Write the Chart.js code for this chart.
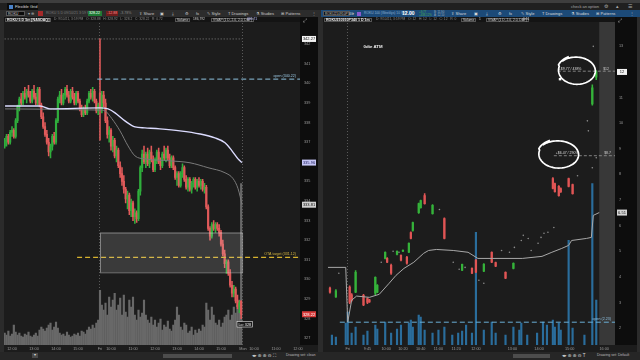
<!DOCTYPE html>
<html><head><meta charset="utf-8">
<script src="https://cdn.jsdelivr.net/npm/chart.js@4.4.0/dist/chart.umd.min.js"></script>
<style>
html,body{margin:0;padding:0;width:640px;height:360px;overflow:hidden;background:#2b2b2b;font-family:"Liberation Sans",Arial,"DejaVu Sans",sans-serif;}
.a{position:absolute;white-space:nowrap;line-height:1;}
canvas{position:absolute;}
.bx{border:0.5px solid #555;box-sizing:border-box;}
</style></head><body>
<!-- window bar -->
<div class="a" style="left:0;top:0;width:640px;height:3px;background:#3e3e3e"></div>
<div class="a" style="left:0;top:3px;width:640px;height:7px;background:#202020"></div>
<div class="a" style="left:7px;top:3px;width:31px;height:7px;background:#0c0c0c"></div>
<div class="a" style="left:9px;top:4.5px;width:4px;height:4px;background:#4a82c8"></div>
<div class="a" style="left:15px;top:5px;font-size:4px;color:#ddd">Flexible Grid</div>
<div class="a" style="left:571px;top:4.5px;font-size:4px;color:#aaa">check an option</div>
<div class="a" style="left:604px;top:4px;font-size:5px;color:#aaa">⚙</div>
<div class="a" style="left:616px;top:4px;font-size:5px;color:#aaa">▴</div>
<div class="a" style="left:628px;top:4px;font-size:5px;color:#aaa">☰</div>
<!-- toolbar rows -->
<div class="a" style="left:0;top:10px;width:320px;height:7px;background:#2c2c2c"></div>
<div class="a" style="left:321px;top:10px;width:319px;height:7px;background:#1c4a78"></div>
<div class="a bx" style="left:6px;top:11px;width:19px;height:5px;background:#0b0b0b;font-size:3.6px;color:#ddd;padding:0.7px 1px">ROKU</div>
<div class="a" style="left:28px;top:11.5px;font-size:4px;color:#aaa">▾ ⊕</div>
<div class="a" style="left:38px;top:11px;width:5px;height:5px;background:#a52a2a"></div>
<div class="a" style="left:46px;top:12px;font-size:3.6px;color:#777">ROKU 5 D 09/10/21 3:59 PM</div>
<div class="a" style="left:88px;top:11px;width:14px;height:5px;background:#1e7a34;font-size:3.6px;color:#fff;padding:0.7px 1px;box-sizing:border-box">328.22</div>
<div class="a" style="left:106px;top:11px;width:12px;height:5px;background:#6e1c1c;font-size:3.6px;color:#f88;padding:0.7px 1px;box-sizing:border-box">-12.88</div>
<div class="a" style="left:120px;top:12px;font-size:3.6px;color:#888">-3.78%</div>
<div class="a" style="left:139px;top:11.5px;font-size:4px;color:#ccc">⇪ Share</div>
<div class="a" style="left:160px;top:11.5px;font-size:4px;color:#ccc">▣</div>
<div class="a" style="left:172px;top:11.5px;font-size:4px;color:#ccc">⤓</div>
<div class="a" style="left:185px;top:11.5px;font-size:4px;color:#ccc">⚙</div>
<div class="a" style="left:196px;top:11.5px;font-size:4px;color:#ccc">fx</div>
<div class="a" style="left:207px;top:11.5px;font-size:4px;color:#ccc">✎ Style</div>
<div class="a" style="left:228px;top:11.5px;font-size:4px;color:#ccc">T Drawings</div>
<div class="a" style="left:256px;top:11.5px;font-size:4px;color:#ccc">⚗ Studies</div>
<div class="a" style="left:281px;top:11.5px;font-size:4px;color:#ccc">⊞ Patterns</div>
<div class="a" style="left:312px;top:11.5px;font-size:4px;color:#ccc">⋮</div>
<div class="a bx" style="left:323px;top:11px;width:27px;height:5px;background:#0b0b0b;font-size:3.3px;color:#ccc;padding:0.8px 1px">ROKU210910P340</div>
<div class="a" style="left:352px;top:11.5px;font-size:4px;color:#aaa">▾</div>
<div class="a" style="left:357px;top:11.5px;width:4px;height:4px;background:#8a5ad0"></div>
<div class="a" style="left:364px;top:12px;font-size:3.3px;color:#8fb0d0">ROKU 100 (Weeklys) 10 SEP 21</div>
<div class="a" style="left:402px;top:11px;font-size:5px;color:#fff;font-weight:bold">12.00</div>
<div class="a" style="left:419px;top:10.5px;font-size:2.8px;color:#4caf50;line-height:1.1">+9.77<br>+438.12%</div>
<div class="a" style="left:434px;top:10.5px;font-size:2.8px;color:#9ab;line-height:1.1">B: 11.90<br>A: 12.10</div>
<div class="a" style="left:451px;top:11.5px;font-size:4px;color:#ddd">⇪ Share</div>
<div class="a" style="left:474px;top:11.5px;font-size:4px;color:#ddd">▣</div>
<div class="a" style="left:486px;top:11.5px;font-size:4px;color:#ddd">⤓</div>
<div class="a" style="left:498px;top:11.5px;font-size:4px;color:#ddd">⚙</div>
<div class="a" style="left:509px;top:11.5px;font-size:4px;color:#ddd">fx</div>
<div class="a" style="left:521px;top:11.5px;font-size:4px;color:#ddd">✎ Style</div>
<div class="a" style="left:542px;top:11.5px;font-size:4px;color:#ddd">T Drawings</div>
<div class="a" style="left:571px;top:11.5px;font-size:4px;color:#ddd">⚗ Studies</div>
<div class="a" style="left:596px;top:11.5px;font-size:4px;color:#ddd">⊞ Patterns</div>
<div class="a" style="left:630px;top:11.5px;font-size:4px;color:#ddd">⋮</div>

<canvas id="cl" width="314" height="335" style="left:4px;top:17px;width:314px;height:335px"></canvas>
<canvas id="cr" width="314" height="335" style="left:323px;top:17px;width:314px;height:335px"></canvas>

<!-- chart headers -->
<div class="a" style="left:4px;top:17px;width:296px;height:5px;background:#141414"></div>
<div class="a bx" style="left:5px;top:17.5px;height:4.5px;font-size:3.6px;color:#eee;font-weight:bold;padding:0.4px 1px">ROKU 5 D 5m [NASDAQ]</div>
<div class="a" style="left:54px;top:18.3px;font-size:3.3px;color:#888">D: 9/10/21, 3:59 PM &nbsp; O: 328.88 &nbsp; H: 328.92 &nbsp; L: 328.2 &nbsp; C: 328.22 &nbsp; R: 0.72</div>
<div class="a bx" style="left:175px;top:17.5px;height:4.5px;font-size:3.4px;color:#ddd;padding:0.4px 1px">Volume</div>
<div class="a" style="left:193px;top:18.3px;font-size:3.3px;color:#ccc">186,792</div>
<div class="a bx" style="left:211px;top:17.5px;height:4.5px;font-size:3.3px;color:#ccc;padding:0.4px 1px">VWAP (1 D, 2.0, 2.0, DAY)</div>
<div class="a" style="left:247px;top:18.3px;font-size:3.3px;color:#b8b8ff">335.71</div>
<div class="a" style="left:303px;top:17.5px;font-size:5px;color:#ccc">⤢</div>
<div class="a" style="left:323px;top:17px;width:292px;height:5px;background:#141414"></div>
<div class="a bx" style="left:324px;top:17.5px;height:4.5px;font-size:3.6px;color:#eee;font-weight:bold;padding:0.4px 1px">ROKU210910P340 1 D 1m</div>
<div class="a" style="left:376px;top:18.3px;font-size:3.3px;color:#888">D: 9/10/21, 3:59 PM &nbsp; O: 12 &nbsp; H: 12 &nbsp; L: 12 &nbsp; C: 12 &nbsp; R: 0</div>
<div class="a bx" style="left:461px;top:17.5px;height:4.5px;font-size:3.4px;color:#ddd;padding:0.4px 1px">Volume</div>
<div class="a" style="left:479px;top:18.3px;font-size:3.3px;color:#ccc">1</div>
<div class="a bx" style="left:486px;top:17.5px;height:4.5px;font-size:3.3px;color:#ccc;padding:0.4px 1px">VWAP (1 D, 2.0, 2.0, DAY)</div>
<div class="a" style="left:523px;top:18.3px;font-size:3.3px;color:#ccc">6.51</div>
<div class="a" style="left:618px;top:17.5px;font-size:5px;color:#ccc">⤢</div>

<!-- bottom bar -->
<div class="a" style="left:0;top:352px;width:640px;height:8px;background:#262626"></div>
<div class="a" style="left:32px;top:353px;width:6px;height:5px;background:#4a4a4a;font-size:4px;color:#ddd;text-align:center">▾</div>
<div class="a" style="left:163px;top:354px;width:69px;height:4px;background:#4d4d4d"></div>
<div class="a" style="left:252px;top:353.5px;font-size:4.5px;color:#ddd">◂▸ ⊕ ⊕ ⊖ ⛶</div>
<div class="a" style="left:286px;top:354px;font-size:3.6px;color:#bbb">Drawing set: clean</div>
<div class="a" style="left:513px;top:354px;width:37px;height:4px;background:#4d4d4d"></div>
<div class="a" style="left:562px;top:353.5px;font-size:4.5px;color:#ddd">◂▸ ⊕ ⊕ ⊖ T</div>
<div class="a" style="left:597px;top:354px;font-size:3.6px;color:#bbb">Drawing set: Default</div>

<script>
// ---------------- LEFT: ROKU 5 D 5m (Thu part + Fri) ----------------
const lOpen = [
336.8,337.1,337.3,337.0,337.5,337.6,337.3,338.1,338.8,339.2,
339.0,339.5,339.3,339.6,339.4,339.1,339.6,339.3,339.0,339.7,
338.9,338.3,337.8,337.4,337.0,336.5,336.8,337.3,337.0,338.1,
339.2,339.4,339.0,339.4,339.7,339.4,339.1,339.6,339.3,339.0,
339.5,339.1,338.7,338.4,338.7,338.5,339.1,339.5,339.3,339.6,
339.1,338.6,
339.5,338.7,339.4,339.0,338.1,337.4,337.6,336.8,337.1,336.3,
336.6,335.8,335.4,335.0,334.6,334.1,334.3,333.5,333.9,333.2,
333.4,333.1,334.5,335.7,336.4,336.0,336.4,335.9,336.5,336.1,
335.6,336.1,336.5,336.0,335.8,336.4,336.2,336.6,336.2,335.8,
336.2,335.7,335.2,335.4,334.8,335.4,335.7,335.1,334.7,335.1,
334.6,334.9,335.1,334.7,335.0,334.8,335.0,334.6,334.7,333.7,
332.6,332.2,332.8,332.6,332.8,332.6,332.4,331.8,331.3,330.8,
330.9,330.3,329.7,329.3,329.5,328.9,328.6,328.88];
const lHigh = [
337.2,337.4,337.4,337.6,337.8,337.7,338.2,338.9,339.3,339.5,
339.6,339.8,339.7,339.9,339.6,339.7,339.9,339.5,339.8,339.8,
339.0,338.5,338.0,337.6,337.2,336.9,337.4,337.5,338.2,339.3,
339.6,339.7,339.5,339.8,339.9,339.6,339.7,339.8,339.5,339.6,
339.6,339.2,338.9,338.8,338.9,339.2,339.6,339.7,339.8,339.7,
339.2,339.0,
342.27,339.6,339.6,339.2,338.3,337.8,337.7,337.3,337.2,336.8,
336.7,336.0,335.7,335.3,334.7,334.5,334.4,334.1,334.0,333.6,
333.5,334.6,335.8,336.6,336.8,336.5,336.7,336.6,336.8,336.3,
336.2,336.6,336.7,336.2,336.5,336.8,336.7,336.8,336.4,336.3,
336.3,335.8,335.5,335.5,335.5,335.9,335.8,335.3,335.2,335.2,
335.0,335.2,335.2,335.1,335.2,335.1,335.1,334.9,334.8,333.8,
332.7,332.9,333.0,332.9,332.9,332.8,332.5,332.0,331.5,331.0,
331.0,330.5,329.9,329.7,329.6,329.2,328.9,328.92];
const lLow = [
336.7,336.8,336.9,336.9,337.3,337.2,337.2,338.0,338.6,338.9,
338.9,339.2,339.0,339.3,339.0,339.0,339.2,338.9,338.9,338.8,
338.2,337.7,337.3,336.9,336.3,336.2,336.6,336.9,336.9,338.0,
339.0,338.9,338.9,339.2,339.3,339.0,339.0,339.2,338.9,338.9,
339.0,338.6,338.3,338.3,338.4,338.4,339.0,339.2,339.1,339.0,
338.5,338.4,
337.1,338.5,338.8,338.0,337.2,337.0,336.6,336.5,336.2,336.0,
335.7,335.2,334.8,334.4,333.9,333.6,333.3,333.2,333.0,332.85,
332.9,333.0,334.3,335.5,335.9,335.7,335.8,335.7,336.0,335.5,
335.5,335.9,335.9,335.6,335.7,336.1,336.0,336.1,335.7,335.7,
335.6,335.1,334.8,334.7,334.7,335.2,335.0,334.6,334.5,334.5,
334.4,334.7,334.6,334.5,334.7,334.6,334.5,334.4,333.6,332.5,
332.0,332.1,332.5,332.4,332.5,332.2,331.7,331.2,330.6,330.3,
330.2,329.6,329.1,329.1,328.8,328.5,328.3,328.0];
const lClose = [
337.1,337.3,337.0,337.5,337.6,337.3,338.1,338.8,339.2,339.0,
339.5,339.3,339.6,339.4,339.1,339.6,339.3,339.0,339.7,338.9,
338.3,337.8,337.4,337.0,336.5,336.8,337.3,337.0,338.1,339.2,
339.4,339.0,339.4,339.7,339.4,339.1,339.6,339.3,339.0,339.5,
339.1,338.7,338.4,338.7,338.5,339.1,339.5,339.3,339.6,339.1,
338.6,338.9,
338.7,339.4,339.0,338.1,337.4,337.6,336.8,337.1,336.3,336.6,
335.8,335.4,335.0,334.6,334.1,334.3,333.5,333.9,333.2,333.4,
333.1,334.5,335.7,336.4,336.0,336.4,335.9,336.5,336.1,335.6,
336.1,336.5,336.0,335.8,336.4,336.2,336.6,336.2,335.8,336.2,
335.7,335.2,335.4,334.8,335.4,335.7,335.1,334.7,335.1,334.6,
334.9,335.1,334.7,335.0,334.8,335.0,334.6,334.7,333.7,332.6,
332.2,332.8,332.6,332.8,332.6,332.4,331.8,331.3,330.8,330.9,
330.3,329.7,329.3,329.5,328.9,328.6,328.8,328.22];
const lVol = [ // thousands of shares
12,10,14,9,11,20,13,10,12,9,8,11,10,13,9,8,10,12,9,15,
18,16,14,17,20,22,15,18,23,17,12,10,11,9,13,10,8,9,11,10,
12,9,14,13,11,15,18,16,20,17,22,25,
55,40,35,42,30,48,38,45,52,35,40,47,30,50,33,28,45,38,48,30,
25,35,28,32,45,30,25,22,28,20,25,18,22,26,15,20,18,24,16,14,
20,25,38,30,18,15,22,20,12,14,18,10,15,12,16,14,20,18,42,35,
25,38,30,22,20,25,18,22,28,30,35,25,30,38,32,40,45,162];
const lVwapIdx = [0.2,19.3,24.7,52,56.4,60.2,65.6,71.1,76.5,84.7,95.6,106.6,114.7,120.2,124,127.3,129.5];
const lVwapVal = [338.85,338.85,338.7,338.75,338.7,338.5,338.09,337.78,337.73,337.68,337.58,337.42,337.22,336.97,336.56,336.15,335.96];
const lAvgIdx = [0.2,52,54.7,58.5,62.9,67.3,71.1,76.5,90.2,101.1,110.9,120.2,124.6,127.3,129.5];
const lAvgVal = [338.7,338.64,338.6,338.2,337.58,336.81,336.3,336.15,336.05,335.95,335.7,335.44,335.14,334.63,333.81];
const lPriceTicks = [327,328,329,330,331,332,333,334,335,336,337,338,339,340,341,342];
const lTimeIdx = [4,16,28,40,52,58,70,82,94,106,118,130,136,148,160];
const lTimeLbl = ['12:00','13:00','14:00','15:00','Fri','10:00','11:00','12:00','13:00','14:00','15:00','Mon','10:00','11:00','12:00'];
const lHighLevel = 342.27, lOpenLevel = 340.22, lTarget = 331.12;
const lBoxIdx = [52, 129.5], lBoxPrice = [330.36, 332.39];
const lSessionBreaks = [51.5, 129.5];

// ---------------- RIGHT: ROKU210910P340 1 D 1m ----------------
const rIdx   = [1,4,11,12,14,18,20,21,24,25,29,30,32,35,37,38,40,41,42,43,46,47,49,53,59,68,73,75,79,83,85,90,94,114,115,117,118,122,124,134,136];
const rOpen  = [3.56,3.22,3.60,3.30,3.40,3.28,3.15,3.10,3.36,3.40,4.72,4.72,4.45,4.88,4.84,5.00,4.76,4.96,5.73,5.81,6.51,6.70,7.17,6.47,6.28,4.26,4.33,4.65,4.22,4.96,4.56,4.18,4.33,7.84,7.64,7.53,7.45,7.84,7.60,10.75,11.80];
const rHigh  = [3.60,3.50,3.65,3.35,4.25,3.32,3.18,3.12,4.00,3.70,4.98,4.75,4.50,5.02,4.86,5.06,4.80,5.33,5.76,6.14,6.88,7.00,7.25,6.82,6.30,4.50,4.35,4.68,4.52,4.98,4.58,4.20,4.55,7.88,7.66,7.56,7.48,7.86,7.62,11.50,12.05];
const rLow   = [3.36,3.20,2.95,3.05,3.38,2.88,2.95,3.00,3.30,3.38,4.70,4.55,4.10,4.86,4.62,4.98,4.50,4.94,5.48,5.78,6.48,6.68,6.84,6.45,5.48,4.24,4.12,4.16,4.20,4.55,4.40,3.93,4.31,7.43,7.31,7.15,7.30,7.51,7.23,10.70,11.70];
const rClose = [3.40,3.45,3.00,3.08,4.18,2.90,3.00,3.02,3.98,3.67,4.96,4.57,4.14,5.00,4.65,5.04,4.53,5.31,5.50,6.12,6.86,6.98,6.86,6.79,5.50,4.49,4.14,4.18,4.49,4.57,4.42,3.95,4.53,7.45,7.33,7.17,7.32,7.53,7.25,11.38,12.00];
const rDotIdx = [5.5,27,33,36,56.5,63.5,66.5,69.5,76.5,79,88,92,94.5,98,99,101.5,103,106.5,108,109.5,111.5,114.5,124.5,126.5,131.5,132,134,134.5,136];
const rDotVal = [4.14,4.57,5.0,4.96,6.63,4.57,4.3,4.37,3.87,3.75,5.03,4.96,5.15,5.42,5.62,5.5,5.03,5.31,5.54,5.7,5.74,5.93,8.42,7.95,10.09,9.7,8.26,13.0,8.65];
const rVolIdx = [2,4,9,10,12,14,18,20,24,25,29,32,35,37,41,42,43,46,47,49,53,56,59,63,66,68,70,73,75,79,83,85,90,94,97,98,101,106,109,111,114,115,117,118,122,124,130,134,136];
const rVol = [10,8,22,33,12,18,10,14,20,16,23,12,16,20,22,25,18,30,28,15,12,15,18,10,12,14,20,12,113,15,23,12,10,18,15,22,10,12,23,20,25,18,22,15,105,17,10,162,45];
const rVwapIdx = [0,9,10,12,14.5,21,26,31,34.5,38.5,43.5,48.5,51,55,63.5,71,76,83.5,98.5,108.5,113.5,118.5,122,123.5,131,133.5,134.5,137.5];
const rVwapVal = [4.37,4.37,2.23,3.09,3.25,3.2,3.32,3.75,4.06,4.33,4.57,4.92,5.03,5.07,5.03,4.96,4.72,4.72,4.72,4.8,4.96,5.11,5.23,5.42,5.5,5.54,6.4,6.51];
const rPriceTicks = [2,3,4,5,6,7,8,9,10,11,12,13];
const rTimeIdx = [10,20,29.5,38,47,56,65,75,93.5,107,122.5,140];
const rTimeLbl = ['Fri','9:45','10:00','10:20','10:40','11:00','11:20','12:00','13:00','14:00','15:00','16:00'];
const rOpenLevel = 2.23, rTarget1 = 12.03, rTarget2 = 8.73;
const rSessionBreaks = [9.5];
const rNote1 = '+$9.77 / 438%', rNote2 = '+$6.47 / 290%';

// ---------------- helpers ----------------
Chart.defaults.font.family = '"Liberation Sans", Arial, sans-serif';
function candles(idx, o, h, l, c, up, dn, bw, ww) {
  const col = idx.map((_, i) => c[i] >= o[i] ? up : dn);
  return [
    {type:'bar', data: idx.map((x,i)=>({x, y:[l[i], h[i]]})), backgroundColor: col, barThickness: ww, grouped:false, order:6},
    {type:'bar', data: idx.map((x,i)=>({x, y:[o[i], c[i]]})), backgroundColor: col, barThickness: bw, grouped:false, minBarLength:1, order:5}
  ];
}
function line(idx, v, color, w, dash, order, smooth) {
  return {type:'line', data: idx.map((x,i)=>({x, y:v[i]})), borderColor: color, borderWidth: w, borderDash: dash || [],
    pointRadius: 0, tension: smooth ? 0.4 : 0, cubicInterpolationMode: smooth ? 'monotone' : 'default', order: order || 2};
}
function vols(idx, v, color, w) {
  return {type:'bar', yAxisID:'yv', data: idx.map((x,i)=>({x, y:v[i]})), backgroundColor: color, barThickness: w, grouped:false, order:10};
}

const chrome = {
  id: 'chrome',
  beforeDraw(c, a, o) {
    const ctx = c.ctx, ca = c.chartArea, ys = c.scales.y, xs = c.scales.x;
    ctx.save();
    ctx.fillStyle = o.bg; ctx.fillRect(0, 0, c.width, c.height);
    ctx.fillStyle = o.axisBg; ctx.fillRect(ys.left, 0, c.width - ys.left, ca.bottom);
    if (o.expandFrom != null) {
      const x0 = xs.getPixelForValue(o.expandFrom);
      ctx.fillStyle = o.expandBg; ctx.fillRect(x0, 0, ca.right - x0, ca.bottom);
    }
    ctx.strokeStyle = '#5a5a5a'; ctx.lineWidth = 1; ctx.setLineDash([1, 2]);
    o.seps.forEach(v => { const x = Math.round(xs.getPixelForValue(v)) + 0.5; ctx.beginPath(); ctx.moveTo(x, 0); ctx.lineTo(x, ca.bottom); ctx.stroke(); });
    ctx.restore();
  },
  afterDatasetsDraw(c, a, o) {
    const ctx = c.ctx, ca = c.chartArea, ys = c.scales.y, xs = c.scales.x;
    ctx.save();
    if (o.box) {
      const x0 = xs.getPixelForValue(o.box.idx[0]), x1 = xs.getPixelForValue(o.box.idx[1]);
      const y0 = ys.getPixelForValue(o.box.price[1]), y1 = ys.getPixelForValue(o.box.price[0]);
      ctx.fillStyle = 'rgba(210,210,210,0.17)'; ctx.fillRect(x0, y0, x1 - x0, y1 - y0);
      ctx.strokeStyle = 'rgba(220,220,220,0.45)'; ctx.lineWidth = 1; ctx.strokeRect(x0 + .5, y0 + .5, x1 - x0, y1 - y0);
    }
    (o.texts || []).forEach(t => {
      ctx.font = (t.bold ? 'bold ' : '') + (t.size || 4) + 'px "Liberation Sans", Arial, sans-serif';
      ctx.fillStyle = t.color; ctx.textAlign = t.align || 'left'; ctx.textBaseline = 'middle';
      const x = t.x === 'right' ? ca.right - 4 : xs.getPixelForValue(t.x);
      ctx.fillText(t.t, x, ys.getPixelForValue(t.y) + (t.dy || 0));
    });
    (o.tags || []).forEach(t => {
      const x = xs.getPixelForValue(t.x), y = ys.getPixelForValue(t.y) + 3;
      ctx.font = '3.8px "Liberation Sans", Arial, sans-serif';
      const w = ctx.measureText(t.t).width + 3;
      ctx.fillStyle = '#1a1a1a'; ctx.fillRect(x - w / 2, y, w, 5.5);
      ctx.strokeStyle = '#e8e8e8'; ctx.lineWidth = 0.6; ctx.strokeRect(x - w / 2, y, w, 5.5);
      ctx.fillStyle = '#eee'; ctx.textAlign = 'center'; ctx.textBaseline = 'middle';
      ctx.fillText(t.t, x, y + 2.9);
    });
    (o.rings || []).forEach(r => {
      const cx = xs.getPixelForValue(r.x), cy = ys.getPixelForValue(r.y);
      const rx = Math.abs(xs.getPixelForValue(r.x + r.rx) - cx), ry = Math.abs(ys.getPixelForValue(r.y + r.ry) - cy);
      ctx.strokeStyle = '#ffffff'; ctx.lineWidth = 1.7; ctx.beginPath();
      for (let k = 0; k <= 80; k++) {
        const t = -2.4 + k / 80 * (2 * Math.PI + 0.45);
        const s = 1 + 0.05 * Math.sin(1.7 * t) + (k > 70 ? 0.07 : 0);
        const px = cx + rx * s * Math.cos(t), py = cy + ry * s * Math.sin(t) - 0.6 * Math.cos(t);
        k ? ctx.lineTo(px, py) : ctx.moveTo(px, py);
      }
      ctx.stroke();
      if (r.marker) { ctx.fillStyle = '#fff'; ctx.fillRect(cx - rx + 1, cy + ry * 0.55, 2.5, 2.5); }
    });
    ctx.restore();
  },
  afterDraw(c, a, o) {
    const ctx = c.ctx, ys = c.scales.y;
    ctx.save();
    (o.badges || []).forEach(b => {
      const y = ys.getPixelForValue(b.v);
      ctx.fillStyle = b.bg; ctx.fillRect(ys.left + 2, y - 3, o.badgeW, 6);
      ctx.font = '4px "Liberation Sans", Arial, sans-serif'; ctx.fillStyle = b.fg;
      ctx.textAlign = 'center'; ctx.textBaseline = 'middle';
      ctx.fillText(b.t, ys.left + 2 + o.badgeW / 2, y + 0.3);
    });
    ctx.restore();
  }
};

function build(id, datasets, xr, yr, yTicks, tIdx, tLbl, yWidth, volMax, chromeOpts) {
  return new Chart(document.getElementById(id), {
    type: 'bar',
    data: { datasets },
    options: {
      responsive: false, animation: false, devicePixelRatio: 1,
      layout: { padding: { top: 5, left: 0, right: 0, bottom: 0 } },
      plugins: { legend: { display: false }, tooltip: { enabled: false }, chrome: chromeOpts },
      scales: {
        x: { type: 'linear', min: xr[0], max: xr[1], offset: false,
             grid: { display: false, drawTicks: false }, border: { display: false },
             afterBuildTicks: s => { s.ticks = tIdx.map(v => ({ value: v })); },
             afterFit: s => { s.height = 7; },
             ticks: { autoSkip: false, maxRotation: 0, padding: 1.2, color: '#9a9a9a', font: { size: 3.8 },
                      callback: v => { const i = tIdx.indexOf(v); return i < 0 ? '' : tLbl[i]; } } },
        y: { type: 'linear', position: 'right', min: yr[0], max: yr[1],
             grid: { display: false, drawTicks: false }, border: { display: false },
             afterBuildTicks: s => { s.ticks = yTicks.map(v => ({ value: v })); },
             afterFit: s => { s.width = yWidth; },
             ticks: { padding: 4, color: '#9a9a9a', font: { size: 3.8 }, callback: v => String(v) } },
        yv: { type: 'linear', display: false, min: 0, max: volMax }
      }
    },
    plugins: [chrome]
  });
}

// ---- left chart
const lIdx = lClose.map((_, i) => i);
const lSets = [
  vols(lIdx, lVol, '#686868', 1.5),
  ...candles(lIdx, lOpen, lHigh, lLow, lClose, '#2fae3c', '#e05a5a', 1.5, 0.9),
  line(lAvgIdx, lAvgVal, '#7a7a7a', 1, [], 3, true),
  line(lVwapIdx, lVwapVal, '#dcdcff', 1.4, [], 2, true),
  line([0, 129.5], [lHighLevel, lHighLevel], '#9a9a9a', 0.8, [1, 2], 1),
  line([50.5, 161.1], [lOpenLevel, lOpenLevel], '#8ec3e0', 1, [5, 3], 1),
  line([39.5, 161.1], [lTarget, lTarget], '#d7b22e', 1.3, [5, 3], 1)
];
build('cl', lSets, [-0.37, 161.1], [326.65, 343.07], lPriceTicks, lTimeIdx, lTimeLbl, 18, 323, {
  bg: '#1c1c1c', axisBg: '#0d0d0d', seps: lSessionBreaks, badgeW: 14,
  box: { idx: lBoxIdx, price: lBoxPrice },
  texts: [
    { x: 'right', y: lOpenLevel, dy: -3.5, t: 'open (' + lOpenLevel.toFixed(2) + ')', color: '#9ccbe6', align: 'right', size: 3.6 },
    { x: 'right', y: lTarget, dy: -3.5, t: 'OTA target (' + lTarget.toFixed(2) + ')', color: '#d9b840', align: 'right', size: 3.6 }
  ],
  tags: [{ x: 131, y: 328.0, t: 'Lo: 328' }],
  badges: [
    { v: lHighLevel, t: '342.27', bg: '#f2f2f2', fg: '#111' },
    { v: 335.96, t: '335.96', bg: '#c4c4f4', fg: '#1a1a5a' },
    { v: 333.81, t: '333.81', bg: '#cfcfcf', fg: '#111' },
    { v: 328.22, t: '328.22', bg: '#d83a3a', fg: '#fff' }
  ]
});

// ---- right chart
const rSets = [
  vols(rVolIdx, rVol, '#2a6d9c', 1.5),
  ...candles(rIdx, rOpen, rHigh, rLow, rClose, '#35b33a', '#e05555', 1.6, 0.9),
  {type:'scatter', data: rDotIdx.map((x,i)=>({x, y:rDotVal[i]})), pointRadius: 0.8, pointBackgroundColor: '#8c8c8c', pointBorderWidth: 0, order: 4},
  line(rVwapIdx, rVwapVal, '#a8a8a8', 1, [], 2),
  line([6, 145.5], [rOpenLevel, rOpenLevel], '#6aaed6', 1, [5, 3], 1),
  line([116.5, 145.5], [rTarget1, rTarget1], '#9a9a9a', 0.8, [3, 2], 1),
  line([114.5, 145.5], [rTarget2, rTarget2], '#9a9a9a', 0.8, [3, 2], 1)
];
build('cr', rSets, [-0.5, 145.5], [1.34, 13.9], rPriceTicks, rTimeIdx, rTimeLbl, 22, 323, {
  bg: '#1c1c1c', axisBg: '#0d0d0d', seps: rSessionBreaks, badgeW: 10,
  expandFrom: 137.5, expandBg: '#383838',
  texts: [
    { x: 18, y: 12.97, t: '0dte ATM', color: '#f2f2f2', bold: true, size: 4.3 },
    { x: 'right', y: rOpenLevel, dy: -3.5, t: 'open (' + rOpenLevel.toFixed(2) + ')', color: '#8fc0e0', align: 'right', size: 3.6 },
    { x: 117, y: rTarget1, dy: -2.5, t: rNote1, color: '#dddddd', size: 3.5 },
    { x: 139.5, y: rTarget1, dy: -2.5, t: '$12', color: '#cccccc', size: 3.5 },
    { x: 115.5, y: rTarget2, dy: -2.5, t: rNote2, color: '#dddddd', size: 3.5 },
    { x: 140, y: rTarget2, dy: -2.5, t: '$8.7', color: '#cccccc', size: 3.5 }
  ],
  rings: [
    { x: 126, y: 12.06, rx: 9.5, ry: 0.53, marker: true },
    { x: 116.75, y: 8.79, rx: 10.25, ry: 0.53 }
  ],
  badges: [
    { v: 12.0, t: '12', bg: '#f2f2f2', fg: '#111' },
    { v: 6.51, t: '6.51', bg: '#d4d4d4', fg: '#111' }
  ]
});
</script>
</body></html>
